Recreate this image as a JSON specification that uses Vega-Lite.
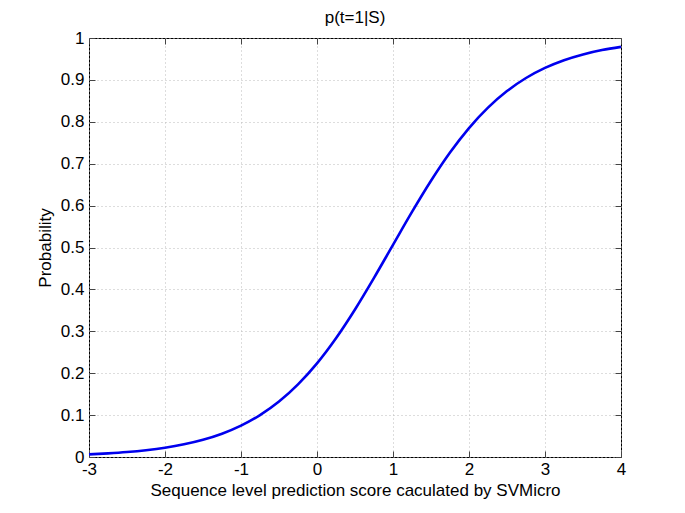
{
  "$schema": "https://vega.github.io/schema/vega-lite/v6.json",
  "width": 532,
  "height": 419,
  "autosize": "none",
  "padding": {"left": 89, "top": 38, "right": 64, "bottom": 56},
  "background": "white",
  "title": {"text": "p(t=1|S)", "fontSize": 17, "fontWeight": "normal", "font": "Liberation Sans", "color": "#000", "offset": 2},
  "config": {
    "view": {"stroke": "#000", "strokeWidth": 1},
    "axis": {"labelFont": "Liberation Sans", "titleFont": "Liberation Sans", "labelColor": "#000", "titleColor": "#000", "labelFontSize": 17, "titleFontSize": 17, "titleFontWeight": "normal"}
  },
  "data": {"values": [
    {"x": -3, "p": 0.0063}, {"x": -2.75, "p": 0.0087}, {"x": -2.5, "p": 0.0119}, {"x": -2.25, "p": 0.0163},
    {"x": -2, "p": 0.0222}, {"x": -1.75, "p": 0.0303}, {"x": -1.5, "p": 0.0411}, {"x": -1.25, "p": 0.0556},
    {"x": -1, "p": 0.0748}, {"x": -0.75, "p": 0.1}, {"x": -0.5, "p": 0.1324}, {"x": -0.25, "p": 0.1734},
    {"x": 0, "p": 0.2236}, {"x": 0.25, "p": 0.2835}, {"x": 0.5, "p": 0.3521}, {"x": 0.75, "p": 0.4275},
    {"x": 1, "p": 0.5063}, {"x": 1.25, "p": 0.5849}, {"x": 1.5, "p": 0.6593}, {"x": 1.75, "p": 0.7267},
    {"x": 2, "p": 0.7851}, {"x": 2.25, "p": 0.8338}, {"x": 2.5, "p": 0.8733}, {"x": 2.75, "p": 0.9045},
    {"x": 3, "p": 0.9286}, {"x": 3.25, "p": 0.947}, {"x": 3.5, "p": 0.9608}, {"x": 3.75, "p": 0.9712},
    {"x": 4, "p": 0.9789}
  ]},
  "layer": [
    {
      "mark": {"type": "line", "color": "#0000ee", "strokeWidth": 2.6, "interpolate": "monotone"},
      "encoding": {
        "x": {"field": "x", "type": "quantitative", "scale": {"domain": [-3, 4], "nice": false, "zero": false},
          "axis": {"title": "Sequence level prediction score caculated by SVMicro", "values": [-3, -2, -1, 0, 1, 2, 3, 4], "labelExpr": "'' + datum.value", "grid": true, "gridColor": "#bbbbbb", "gridDash": [1, 3], "gridWidth": 1, "domain": false, "tickSize": -6, "tickColor": "#444", "labelPadding": 10, "titlePadding": 5, "labelFlush": false}},
        "y": {"field": "p", "type": "quantitative", "scale": {"domain": [0, 1], "nice": false},
          "axis": {"title": "Probability", "values": [0, 0.1, 0.2, 0.3, 0.4, 0.5, 0.6, 0.7, 0.8, 0.9, 1], "labelExpr": "'' + datum.value", "grid": true, "gridColor": "#bbbbbb", "gridDash": [1, 3], "gridWidth": 1, "domain": false, "tickSize": -6, "tickColor": "#444", "labelPadding": 11, "titlePadding": 6, "labelFlush": false}}
      }
    },
    {
      "mark": {"type": "line", "opacity": 0},
      "encoding": {
        "x": {"field": "x", "type": "quantitative", "axis": {"orient": "top", "title": null, "labels": false, "domain": false, "grid": false, "values": [-3, -2, -1, 0, 1, 2, 3, 4], "tickSize": -6, "tickColor": "#444"}},
        "y": {"field": "p", "type": "quantitative", "axis": {"orient": "right", "title": null, "labels": false, "domain": false, "grid": false, "values": [0, 0.1, 0.2, 0.3, 0.4, 0.5, 0.6, 0.7, 0.8, 0.9, 1], "tickSize": -6, "tickColor": "#444"}}
      }
    }
  ],
  "resolve": {"axis": {"x": "independent", "y": "independent"}}
}
